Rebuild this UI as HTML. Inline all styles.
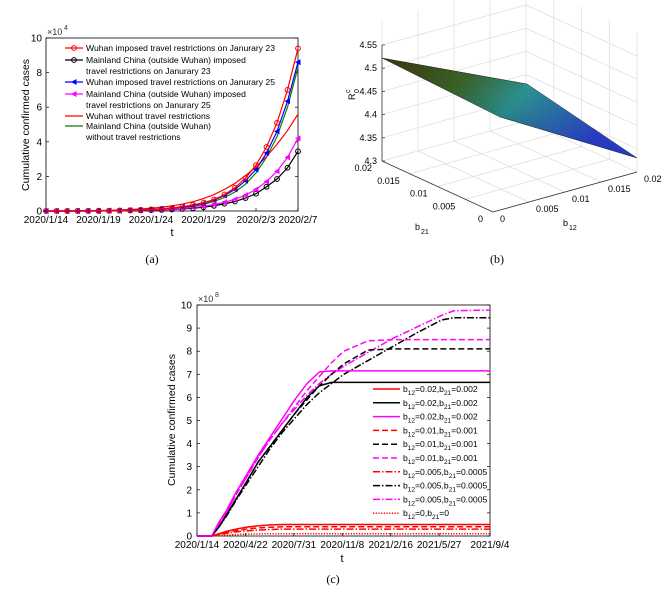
<!DOCTYPE html>
<html><head><meta charset="utf-8">
<style>
html,body{margin:0;padding:0;background:#fff;}
svg{display:block;font-family:"Liberation Sans",sans-serif;}
</style></head>
<body>
<svg id="root" width="664" height="597" viewBox="0 0 664 597">
<defs>
<linearGradient id="surf" x1="0" y1="0" x2="1" y2="0.4">
<stop offset="0" stop-color="#3d3a0c"/><stop offset="0.35" stop-color="#3f6a2a"/>
<stop offset="0.6" stop-color="#2e9a9a"/><stop offset="1" stop-color="#2b3fd0"/>
</linearGradient>
</defs>
<g id="pa"></g>
<g id="pb"></g>
<g id="pc"></g>
<text x="152" y="263" font-size="12" font-family="Liberation Serif" text-anchor="middle">(a)</text>
<text x="497" y="263" font-size="12" font-family="Liberation Serif" text-anchor="middle">(b)</text>
<text x="333" y="583" font-size="12" font-family="Liberation Serif" text-anchor="middle">(c)</text>
</svg>
<script>
// ---------- Panel (a) data ----------
const aDays=[0,1,2,3,4,5,6,7,8,9,10,11,12,13,14,15,16,17,18,19,20,21,22,23,24];
const aXTickDays=[0,5,10,15,20,24];
const aXTickLabels=["2020/1/14","2020/1/19","2020/1/24","2020/1/29","2020/2/3","2020/2/7"];
const aYTicks=[0,2,4,6,8,10];
const wuhan23=[0,0,0,0.01,0.01,0.02,0.02,0.03,0.05,0.07,0.09,0.13,0.18,0.25,0.35,0.48,0.66,0.95,1.35,1.9,2.65,3.7,5.1,7.0,9.4];
const mainland23=[0,0,0,0,0,0,0.01,0.02,0.03,0.04,0.05,0.07,0.09,0.12,0.16,0.22,0.3,0.42,0.55,0.75,1.0,1.4,1.85,2.5,3.45];
const wuhan25=[0,0,0,0,0.01,0.01,0.02,0.03,0.04,0.06,0.09,0.12,0.17,0.23,0.32,0.45,0.63,0.9,1.25,1.75,2.4,3.35,4.6,6.35,8.6];
const mainland25=[0,0,0,0,0,0,0.01,0.02,0.03,0.04,0.06,0.08,0.11,0.15,0.2,0.27,0.37,0.5,0.68,0.92,1.25,1.7,2.3,3.1,4.2];
const wuhanNone=[0,0,0,0.01,0.02,0.03,0.04,0.06,0.09,0.12,0.16,0.22,0.3,0.4,0.54,0.72,0.95,1.25,1.6,2.05,2.55,3.15,3.85,4.65,5.6];
const mainlandNone=[0,0,0,0,0,0.01,0.01,0.02,0.03,0.04,0.06,0.09,0.13,0.19,0.27,0.38,0.55,0.78,1.1,1.55,2.2,3.1,4.3,6.0,8.3];

// ---------- Panel (c) data ----------
const cDays=[0,30,45,60,80,100,125,150,175,200,225,250,275,300,350,400,450,500,525,599];
const cXTicks=[0,99,198,297,396,495,599];
const cXTickLabels=["2020/1/14","2020/4/22","2020/7/31","2020/11/8","2021/2/16","2021/5/27","2021/9/4"];
const cYTicks=[0,1,2,3,4,5,6,7,8,9,10];
const redSolid=[0,0,0.1,0.2,0.3,0.38,0.44,0.48,0.5,0.5,0.5,0.5,0.5,0.5,0.5,0.5,0.5,0.5,0.5,0.5];
const blkSolid=[0,0,0.4,0.9,1.6,2.3,3.2,3.9,4.6,5.3,6.0,6.5,6.65,6.65,6.65,6.65,6.65,6.65,6.65,6.65];
const magSolid=[0,0,0.6,1.1,1.9,2.6,3.5,4.3,5.1,5.9,6.6,7.1,7.15,7.15,7.15,7.15,7.15,7.15,7.15,7.15];
const redDash=[0,0,0.08,0.16,0.24,0.3,0.35,0.38,0.4,0.4,0.4,0.4,0.4,0.4,0.4,0.4,0.4,0.4,0.4,0.4];
const blkDash=[0,0,0.4,0.9,1.6,2.3,3.2,3.9,4.6,5.3,5.9,6.5,7.0,7.45,8.05,8.1,8.1,8.1,8.1,8.1];
const magDash=[0,0,0.5,1.0,1.8,2.5,3.4,4.2,4.9,5.6,6.3,6.9,7.5,8.0,8.45,8.5,8.5,8.5,8.5,8.5];
const redDD=[0,0,0.06,0.12,0.18,0.22,0.26,0.28,0.3,0.3,0.3,0.3,0.3,0.3,0.3,0.3,0.3,0.3,0.3,0.3];
const blkDD=[0,0,0.4,0.85,1.55,2.2,3.0,3.8,4.5,5.1,5.7,6.2,6.6,7.0,7.6,8.2,8.8,9.35,9.45,9.45];
const magDD=[0,0,0.5,1.0,1.8,2.5,3.4,4.2,4.9,5.5,6.1,6.6,7.0,7.35,7.95,8.55,9.05,9.55,9.75,9.78];
const redDot=[0,0,0.02,0.04,0.06,0.08,0.09,0.1,0.1,0.1,0.1,0.1,0.1,0.1,0.1,0.1,0.1,0.1,0.1,0.1];

const NS="http://www.w3.org/2000/svg";
function mk(parent,tag,attrs,txt){const e=document.createElementNS(NS,tag);for(const k in attrs)e.setAttribute(k,attrs[k]);if(txt!==undefined)e.textContent=txt;parent.appendChild(e);return e;}

// ===== Panel A =====
(function(){
const g=document.getElementById('pa');
const L=46,R=298,T=38,B=211;
const xA=d=>L+d*(R-L)/24, yA=v=>B-v*(B-T)/10;
let e=mk(g,'rect',{x:L,y:T,width:R-L,height:B-T,fill:'#fff',stroke:'#000','stroke-width':0.8});

aYTicks.forEach(v=>{
  mk(g,'line',{x1:L,x2:L+3,y1:yA(v),y2:yA(v),stroke:'#000','stroke-width':0.7});
  mk(g,'line',{x1:R,x2:R-3,y1:yA(v),y2:yA(v),stroke:'#000','stroke-width':0.7});
  e=mk(g,'text',{x:L-4,y:yA(v)+3.5,'font-size':10,'text-anchor':'end'},String(v));
  
});
aXTickDays.forEach((d,i)=>{
  mk(g,'line',{x1:xA(d),x2:xA(d),y1:B,y2:B-3,stroke:'#000','stroke-width':0.7});
  e=mk(g,'text',{x:xA(d),y:B+12,'font-size':10,'text-anchor':'middle'},aXTickLabels[i]);
  
});
e=mk(g,'text',{x:L+1,y:T-3,'font-size':9,fill:'#333'},'×10');

mk(g,'text',{x:L+18,y:T-8,'font-size':7,fill:'#333'},'4');
e=mk(g,'text',{x:172,y:236,'font-size':11,'text-anchor':'middle'},'t');

e=mk(g,'text',{x:0,y:0,'font-size':10.5,'text-anchor':'middle',transform:'translate(29,125) rotate(-90)'},'Cumulative confirmed cases');


const series=[
 {d:mainlandNone,c:'#008000',m:null,n:'series-mainland-no-restriction'},
 {d:wuhanNone,c:'#ff0000',m:null,n:'series-wuhan-no-restriction'},
 {d:mainland23,c:'#000',m:'o',n:'series-mainland-jan23'},
 {d:mainland25,c:'#ff00ff',m:'t',n:'series-mainland-jan25'},
 {d:wuhan25,c:'#0000ff',m:'t',n:'series-wuhan-jan25'},
 {d:wuhan23,c:'#ff0000',m:'o',n:'series-wuhan-jan23'},
];
series.forEach(s=>{
  const sg=mk(g,'g',{});
  
  mk(sg,'polyline',{points:aDays.map((d,i)=>xA(d)+','+yA(s.d[i])).join(' '),fill:'none',stroke:s.c,'stroke-width':1.2});
  if(s.m){aDays.forEach((d,i)=>{
    const x=xA(d),y=yA(s.d[i]);
    if(s.m==='o')mk(sg,'circle',{cx:x,cy:y,r:2.4,fill:'none',stroke:s.c,'stroke-width':1});
    else mk(sg,'polygon',{points:`${x-3},${y} ${x+2.5},${y-3} ${x+2.5},${y+3}`,fill:s.c});
  });}
});
const lg=mk(g,'g',{});

const items=[
 {c:'#ff0000',m:'o',y:48,t:['Wuhan imposed travel restrictions on Janurary 23']},
 {c:'#000',m:'o',y:60,t:['Mainland China (outside Wuhan) imposed','travel restrictions on Janurary 23']},
 {c:'#0000ff',m:'t',y:82,t:['Wuhan imposed travel restrictions on Janurary 25']},
 {c:'#ff00ff',m:'t',y:94,t:['Mainland China (outside Wuhan) imposed','travel restrictions on Janurary 25']},
 {c:'#ff0000',m:null,y:116,t:['Wuhan without travel restrictions']},
 {c:'#008000',m:null,y:126,t:['Mainland China (outside Wuhan)','without travel restrictions']},
];
items.forEach(it=>{
  const ig=mk(lg,'g',{});
  
  mk(ig,'line',{x1:65,x2:83,y1:it.y,y2:it.y,stroke:it.c,'stroke-width':1.2});
  if(it.m==='o')mk(ig,'circle',{cx:74,cy:it.y,r:2.4,fill:'none',stroke:it.c,'stroke-width':1});
  if(it.m==='t')mk(ig,'polygon',{points:`71,${it.y} 76.5,${it.y-3} 76.5,${it.y+3}`,fill:it.c});
  it.t.forEach((s,k)=>mk(ig,'text',{x:86,y:it.y+3.2+k*11,'font-size':8.6},s));
});
})();

// ===== Panel B (3D surface) =====
(function(){
const g=document.getElementById('pb');
const Lf=[382,161],F=[493,212],Rf=[637,172],Bf=[526,121];
const zs=464;
const lerp=(a,b,t)=>[a[0]+(b[0]-a[0])*t,a[1]+(b[1]-a[1])*t];
const grid='#dcdcdc';
const ln=(p,q,c,w)=>mk(g,'line',{x1:p[0],y1:p[1],x2:q[0],y2:q[1],stroke:c,'stroke-width':w||0.7});
const H=140;
for(let i=0;i<=4;i++){const p=lerp(Lf,Bf,i/4);ln(p,[p[0],p[1]-H],grid);}
for(let i=1;i<=4;i++){const p=lerp(Bf,Rf,i/4);ln(p,[p[0],p[1]-H],grid);}
for(let k=0;k<=5;k++){const dz=k*0.05*zs;
  ln([Lf[0],Lf[1]-dz],[Bf[0],Bf[1]-dz],grid);
  ln([Bf[0],Bf[1]-dz],[Rf[0],Rf[1]-dz],grid);}
for(let i=1;i<4;i++){ln(lerp(Lf,F,i/4),lerp(Bf,Rf,i/4),grid);ln(lerp(F,Rf,i/4),lerp(Lf,Bf,i/4),grid);}
ln(Lf,F,'#333',0.8);ln(F,Rf,'#333',0.8);ln([382,45],[382,161],'#333',0.8);
const s=mk(g,'polygon',{points:'382,58 527,84 637,158 500,117',fill:'url(#surf)',stroke:'#222','stroke-width':0.5});

for(let i=1;i<30;i++){const t=i/30;const a=lerp([382,58],[527,84],t),b=lerp([500,117],[637,158],t);
  mk(g,'line',{x1:a[0],y1:a[1],x2:b[0],y2:b[1],stroke:'#000','stroke-width':0.4,opacity:0.35});}
[4.3,4.35,4.4,4.45,4.5,4.55].forEach(v=>{const y=161-(v-4.3)*zs;
  ln([382,y],[385,y],'#333',0.7);
  const t=mk(g,'text',{x:377,y:y+3,'font-size':9,'text-anchor':'end'},String(v));
  });
const b21=['0.02','0.015','0.01','0.005','0'];
b21.forEach((l,i)=>{const p=lerp(Lf,F,i/4);
  const t=mk(g,'text',{x:p[0]-10,y:p[1]+10,'font-size':9,'text-anchor':'end'},l);
  });
const b12=['0','0.005','0.01','0.015','0.02'];
b12.forEach((l,i)=>{const p=lerp(F,Rf,i/4);
  const t=mk(g,'text',{x:p[0]+7,y:p[1]+10,'font-size':9},l);
  });
let t=mk(g,'text',{x:415,y:230,'font-size':9},'b');

mk(g,'text',{x:421,y:234,'font-size':7},'21');
t=mk(g,'text',{x:563,y:226,'font-size':9},'b');

mk(g,'text',{x:569,y:230,'font-size':7},'12');
t=mk(g,'text',{x:0,y:0,'font-size':9,transform:'translate(355,100) rotate(-90)'},'R');

mk(g,'text',{x:0,y:0,'font-size':7,transform:'translate(350,93) rotate(-90)'},'c');
mk(g,'text',{x:0,y:0,'font-size':7,transform:'translate(359,93) rotate(-90)'},'0');
})();

// ===== Panel C =====
(function(){
const g=document.getElementById('pc');
const L=197,R=490,T=305,B=536;
const xC=d=>L+d*(R-L)/599, yC=v=>B-v*(B-T)/10;
let e=mk(g,'rect',{x:L,y:T,width:R-L,height:B-T,fill:'#fff',stroke:'#000','stroke-width':0.8});

cYTicks.forEach(v=>{
  mk(g,'line',{x1:L,x2:L+3,y1:yC(v),y2:yC(v),stroke:'#000','stroke-width':0.7});
  mk(g,'line',{x1:R,x2:R-3,y1:yC(v),y2:yC(v),stroke:'#000','stroke-width':0.7});
  e=mk(g,'text',{x:L-5,y:yC(v)+3.5,'font-size':10,'text-anchor':'end'},String(v));
  
});
cXTicks.forEach((d,i)=>{
  mk(g,'line',{x1:xC(d),x2:xC(d),y1:B,y2:B-3,stroke:'#000','stroke-width':0.7});
  e=mk(g,'text',{x:xC(d),y:B+12,'font-size':10,'text-anchor':'middle'},cXTickLabels[i]);
  
});
e=mk(g,'text',{x:L+1,y:T-3,'font-size':9,fill:'#333'},'×10');

mk(g,'text',{x:L+18,y:T-8,'font-size':7,fill:'#333'},'8');
e=mk(g,'text',{x:342,y:562,'font-size':11,'text-anchor':'middle'},'t');

e=mk(g,'text',{x:0,y:0,'font-size':10.5,'text-anchor':'middle',transform:'translate(175,420) rotate(-90)'},'Cumulative confirmed cases');

const S='', D='6,3', DD='7,2,1.5,2', DT='1.2,1.5';
const ser=[
 {d:redDot,c:'#ff0000',s:DT,n:'series-b12-0'},
 {d:redDD,c:'#ff0000',s:DD,n:'series-red-0005'},
 {d:redDash,c:'#ff0000',s:D,n:'series-red-001'},
 {d:redSolid,c:'#ff0000',s:S,n:'series-red-002'},
 {d:blkDD,c:'#000',s:DD,n:'series-black-0005'},
 {d:magDD,c:'#ff00ff',s:DD,n:'series-magenta-0005'},
 {d:blkDash,c:'#000',s:D,n:'series-black-001'},
 {d:magDash,c:'#ff00ff',s:D,n:'series-magenta-001'},
 {d:blkSolid,c:'#000',s:S,n:'series-black-002'},
 {d:magSolid,c:'#ff00ff',s:S,n:'series-magenta-002'},
];
ser.forEach(s=>{
  const p=mk(g,'polyline',{points:cDays.map((d,i)=>xC(d)+','+yC(s.d[i])).join(' '),fill:'none',stroke:s.c,'stroke-width':1.5,'stroke-dasharray':s.s||'none','stroke-linejoin':'round'});
  
});
const lg=mk(g,'g',{});

const rows=[
 ['#ff0000',S,'0.02','0.002'],['#000',S,'0.02','0.002'],['#ff00ff',S,'0.02','0.002'],
 ['#ff0000',D,'0.01','0.001'],['#000',D,'0.01','0.001'],['#ff00ff',D,'0.01','0.001'],
 ['#ff0000',DD,'0.005','0.0005'],['#000',DD,'0.005','0.0005'],['#ff00ff',DD,'0.005','0.0005'],
 ['#ff0000',DT,'0','0']];
rows.forEach((r,i)=>{
  const y=389+i*13.8;
  const ig=mk(lg,'g',{});
  
  mk(ig,'line',{x1:373,x2:400,y1:y,y2:y,stroke:r[0],'stroke-width':1.5,'stroke-dasharray':r[1]||'none'});
  const t=mk(ig,'text',{x:403,y:y+3,'font-size':8.6});
  mk(t,'tspan',{},'b');mk(t,'tspan',{dy:3,'font-size':6.5},'12');
  mk(t,'tspan',{dy:-3},'='+r[2]+',b');mk(t,'tspan',{dy:3,'font-size':6.5},'21');
  mk(t,'tspan',{dy:-3},'='+r[3]);
});
})();
</script>
</body></html>
